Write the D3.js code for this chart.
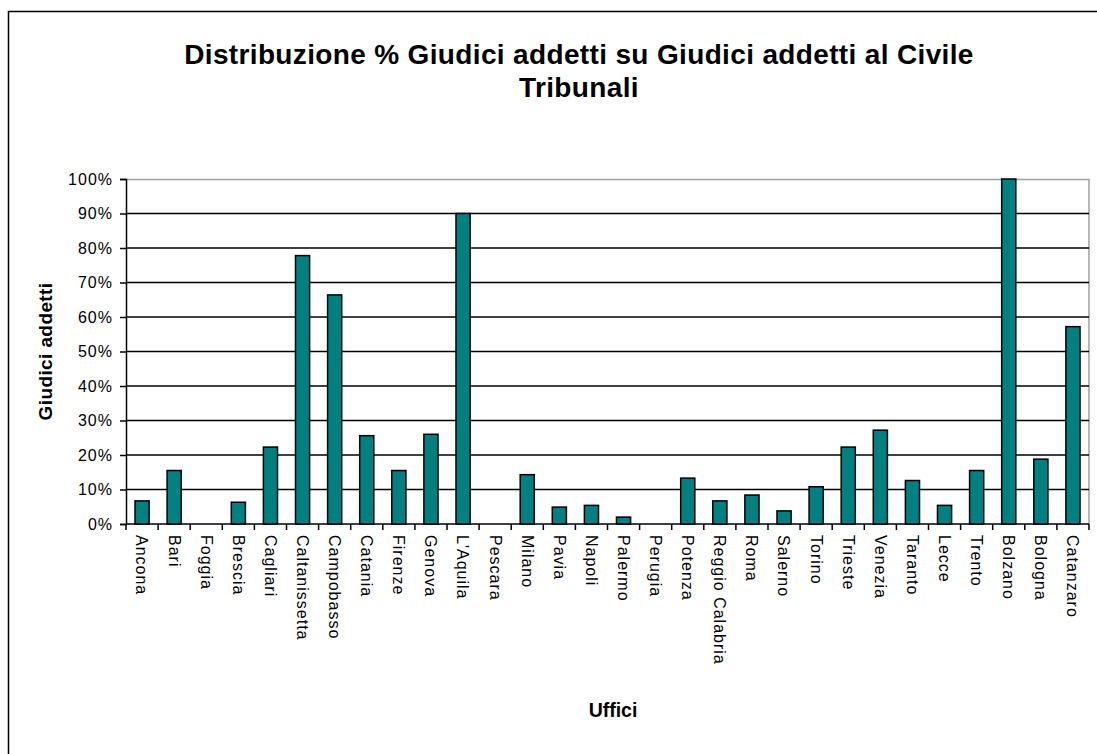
<!DOCTYPE html>
<html>
<head>
<meta charset="utf-8">
<script src="https://cdn.jsdelivr.net/npm/d3@7"></script>
<style>
  body { margin: 0; background: #fff; }
  text { font-family: "Liberation Sans", Arial, sans-serif; }
</style>
</head>
<body>
<div id="wrapper"></div>
<script>
// Data
const offices = ["Ancona", "Bari", "Foggia", "Brescia", "Cagliari", "Caltanissetta", "Campobasso",
    "Catania", "Firenze", "Genova", "L'Aquila", "Pescara", "Milano", "Pavia", "Napoli", "Palermo",
    "Perugia", "Potenza", "Reggio Calabria", "Roma", "Salerno", "Torino", "Trieste", "Venezia",
    "Taranto", "Lecce", "Trento", "Bolzano", "Bologna", "Catanzaro"]
const shares = [6.7, 15.5, 0, 6.3, 22.3, 77.8, 66.4, 25.6, 15.5, 26.0, 90.0, 0, 14.3, 4.9, 5.4, 2.0,
    0, 13.3, 6.7, 8.4, 3.8, 10.8, 22.3, 27.2, 12.6, 5.4, 15.5, 100, 18.8, 57.2]
const yTicks = [0, 10, 20, 30, 40, 50, 60, 70, 80, 90, 100]
const chartTitle = ["Distribuzione % Giudici addetti su Giudici addetti al Civile", "Tribunali"]
const yTitle = "Giudici addetti"
const xTitle = "Uffici"

// Chart dimensions
let dimensions = {
    width: 1097,
    height: 754,
    margin: {
        top: 179,
        right: 8,
        bottom: 230,
        left: 126,
    },
}
dimensions.boundedWidth = dimensions.width
    - dimensions.margin.left
    - dimensions.margin.right
dimensions.boundedHeight = dimensions.height
    - dimensions.margin.top
    - dimensions.margin.bottom

// Draw canvas
const wrapper = d3.select("#wrapper")
    .append("svg")
        .attr("width", dimensions.width)
        .attr("height", dimensions.height)

// outer chart frame
wrapper.append("rect")
    .attr("x", 8.5)
    .attr("y", 11.5)
    .attr("width", dimensions.width + 20)
    .attr("height", dimensions.height + 20)
    .attr("fill", "none")
    .attr("stroke", "#000")
    .attr("stroke-width", 1.5)

const bounds = wrapper.append("g")
    .attr("transform", `translate(${dimensions.margin.left}, ${dimensions.margin.top})`)

// Scales
const xScale = d3.scaleBand()
    .domain(offices)
    .range([0, dimensions.boundedWidth])
    .paddingInner(0.56)
    .paddingOuter(0.28)

const yScale = d3.scaleLinear()
    .domain([0, 100])
    .range([dimensions.boundedHeight, 0])

// plot border (gray top/right)
bounds.append("path")
    .attr("d", `M0,0.5H${dimensions.boundedWidth}V${dimensions.boundedHeight}`)
    .attr("fill", "none")
    .attr("stroke", "#a0a0a0")
    .attr("stroke-width", 1.5)

// gridlines
bounds.append("g")
    .selectAll("line")
    .data(yTicks.filter(d => d > 0 && d < 100))
    .join("line")
        .attr("x1", 0)
        .attr("x2", dimensions.boundedWidth)
        .attr("y1", d => yScale(d))
        .attr("y2", d => yScale(d))
        .attr("stroke", "#000")
        .attr("stroke-width", 1.5)

// bars
bounds.append("g")
    .selectAll("rect")
    .data(offices.map((o, i) => ({ office: o, value: shares[i] })).filter(d => d.value > 0))
    .join("rect")
        .attr("x", d => xScale(d.office))
        .attr("y", d => yScale(d.value))
        .attr("width", xScale.bandwidth())
        .attr("height", d => dimensions.boundedHeight - yScale(d.value))
        .attr("fill", "#008080")
        .attr("stroke", "#000")
        .attr("stroke-width", 1.5)

// Y axis
const yAxis = bounds.append("g")
    .call(d3.axisLeft(yScale).tickValues(yTicks).tickFormat(d => d + "%").tickSize(6).tickPadding(7))
yAxis.select(".domain").attr("stroke", "#000").attr("stroke-width", 1.5)
yAxis.selectAll(".tick line").attr("stroke", "#000").attr("stroke-width", 1.5)
yAxis.selectAll(".tick text")
    .attr("font-size", 16)
    .attr("letter-spacing", 1)
    .attr("fill", "#000")
    .style("font-family", "'Liberation Sans', Arial, sans-serif")

// X axis with ticks between categories
const xAxisG = bounds.append("g")
    .attr("transform", `translate(0, ${dimensions.boundedHeight})`)
xAxisG.append("line")
    .attr("x1", 0)
    .attr("x2", dimensions.boundedWidth)
    .attr("stroke", "#000")
    .attr("stroke-width", 1.5)
const step = xScale.step()
xAxisG.selectAll(".sep")
    .data(d3.range(offices.length + 1))
    .join("line")
        .attr("class", "sep")
        .attr("x1", i => Math.min(i * step, dimensions.boundedWidth))
        .attr("x2", i => Math.min(i * step, dimensions.boundedWidth))
        .attr("y1", 0)
        .attr("y2", 6)
        .attr("stroke", "#000")
        .attr("stroke-width", 1.5)
xAxisG.selectAll(".lbl")
    .data(offices)
    .join("text")
        .attr("class", "lbl")
        .attr("transform", d => `translate(${xScale(d) + xScale.bandwidth() / 2}, 11) rotate(90)`)
        .attr("dy", "0.35em")
        .attr("font-size", 16)
        .attr("letter-spacing", 1)
        .text(d => d)

// Titles
wrapper.append("g")
    .selectAll("text")
    .data(chartTitle)
    .join("text")
        .attr("x", 579)
        .attr("y", (d, i) => 64 + i * 33)
        .attr("text-anchor", "middle")
        .attr("font-size", 28)
        .attr("letter-spacing", 0.35)
        .attr("font-weight", "bold")
        .text(d => d)

wrapper.append("text")
    .attr("transform", `translate(52, ${dimensions.margin.top + dimensions.boundedHeight / 2}) rotate(-90)`)
    .attr("text-anchor", "middle")
    .attr("font-size", 19)
    .attr("letter-spacing", 0.4)
    .attr("font-weight", "bold")
    .text(yTitle)

wrapper.append("text")
    .attr("x", 613)
    .attr("y", 717)
    .attr("text-anchor", "middle")
    .attr("font-size", 19.5)
    .attr("font-weight", "bold")
    .text(xTitle)
</script>
</body>
</html>
